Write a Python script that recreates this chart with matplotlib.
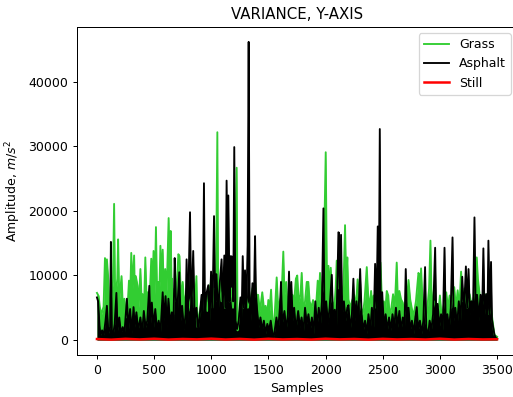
import matplotlib
matplotlib.use("Agg")
import matplotlib.pyplot as plt
import numpy as np

# (sample, variance): peaks and the troughs between them
grass = [
    (0, 7300), (15, 6800), (25, 5100), (40, 4000), (58, 5200), (70, 12700), (80, 9000), (87, 12500),
    (100, 9200), (110, 4500), (125, 6000), (140, 9000), (150, 21100), (158, 8000), (166, 7400),
    (178, 9500), (185, 15600), (195, 6000), (215, 9900), (228, 4500), (240, 6400), (255, 3500),
    (268, 5200), (280, 9200), (290, 6000), (300, 13500), (312, 8000), (325, 13100), (333, 6000),
    (340, 9900), (355, 8400), (365, 5000), (380, 11000), (390, 6500), (400, 7100), (412, 5000),
    (423, 12800), (435, 6000), (446, 7400), (460, 6000), (475, 12600), (485, 8000), (495, 13800),
    (505, 7000), (516, 17500), (525, 8000), (535, 9000), (545, 6500), (555, 14600), (565, 9000),
    (575, 14000), (585, 7000), (597, 11000), (610, 7500), (627, 18900), (636, 10000), (645, 16900),
    (652, 9000), (656, 9500), (668, 4000), (680, 8000), (690, 6000), (700, 9000), (712, 13300),
    (722, 13000), (735, 6000), (750, 9000), (765, 5000), (784, 8000), (800, 4500), (815, 6000),
    (830, 7000), (842, 9000), (855, 5000), (870, 9900), (880, 2000), (895, 4000), (915, 6000),
    (930, 3500), (950, 6500), (965, 4500), (980, 7500), (998, 9000), (1010, 5000), (1024, 8000),
    (1040, 6000), (1053, 32200), (1060, 7000), (1075, 9000), (1090, 6000), (1105, 8000),
    (1120, 5000), (1140, 9000), (1160, 6000), (1175, 8000), (1190, 5000), (1210, 9000),
    (1222, 26700), (1230, 1500), (1245, 4000), (1260, 6000), (1280, 5000), (1300, 7000),
    (1320, 5000), (1340, 6000), (1360, 8000), (1383, 9000), (1397, 6600), (1410, 7000),
    (1425, 4400), (1446, 7400), (1460, 5000), (1475, 5300), (1490, 4000), (1499, 6200),
    (1510, 4500), (1523, 7800), (1535, 3000), (1545, 1500), (1558, 5000), (1572, 9700),
    (1585, 5000), (1600, 6000), (1615, 7000), (1630, 13700), (1640, 7000), (1655, 9000),
    (1668, 4800), (1680, 7000), (1695, 5000), (1710, 7000), (1725, 6000), (1740, 9500),
    (1752, 10000), (1765, 6000), (1780, 7000), (1791, 10400), (1805, 4300), (1820, 6000),
    (1835, 9000), (1849, 9000), (1860, 6000), (1875, 5000), (1890, 6200), (1905, 4000),
    (1918, 5600), (1931, 9200), (1940, 6000), (1951, 10400), (1965, 7000), (1980, 8000),
    (2001, 29100), (2012, 8000), (2025, 11500), (2035, 7000), (2045, 11200), (2060, 6000),
    (2075, 4700), (2088, 8000), (2097, 12300), (2110, 8000), (2125, 10000), (2140, 8000),
    (2155, 7000), (2170, 17800), (2180, 9000), (2190, 12800), (2200, 6300), (2215, 5000),
    (2230, 6000), (2250, 7000), (2265, 5000), (2280, 9400), (2295, 6000), (2310, 5000),
    (2325, 4000), (2340, 6000), (2360, 11300), (2372, 6900), (2385, 5000), (2398, 7600),
    (2410, 5000), (2420, 6900), (2440, 5000), (2460, 8000), (2480, 12000), (2495, 5000),
    (2510, 6000), (2520, 4000), (2535, 7600), (2548, 6900), (2560, 3800), (2575, 5000),
    (2590, 7100), (2605, 5000), (2622, 12000), (2632, 6000), (2645, 7600), (2660, 6300),
    (2675, 5800), (2690, 4000), (2710, 6000), (2725, 9300), (2740, 6300), (2755, 4800),
    (2770, 3800), (2790, 6000), (2812, 10400), (2818, 10200), (2826, 6000), (2835, 11100),
    (2850, 5000), (2865, 6000), (2880, 2500), (2895, 6000), (2905, 8000), (2917, 15400),
    (2925, 7900), (2940, 5000), (2955, 6000), (2970, 5600), (2985, 4000), (3000, 6900),
    (3015, 3500), (3030, 5000), (3055, 7400), (3070, 5000), (3085, 6900), (3100, 5000),
    (3125, 8200), (3140, 5000), (3155, 7700), (3170, 5000), (3185, 10600), (3200, 6000),
    (3215, 8000), (3240, 5000), (3260, 7100), (3280, 5000), (3300, 7000), (3322, 12800),
    (3332, 9500), (3345, 7400), (3360, 5000), (3380, 6000), (3395, 7100), (3410, 5000),
    (3430, 4000), (3447, 5000), (3460, 3000), (3477, 800), (3500, 500),
]

asphalt = [
    (0, 6600), (10, 6000), (22, 2300), (30, 700), (45, 1500), (60, 800), (75, 3000), (87, 5300),
    (100, 1000), (115, 2000), (122, 15200), (130, 1500), (140, 600), (155, 2500), (170, 7300),
    (180, 1500), (195, 3500), (210, 1000), (225, 2000), (240, 1000), (262, 6400), (275, 1500),
    (290, 4800), (305, 1000), (320, 5100), (330, 2000), (345, 4300), (360, 1500), (380, 3500),
    (395, 1000), (410, 4500), (425, 2000), (440, 3000), (458, 8400), (468, 2500), (480, 5800),
    (495, 2000), (510, 4800), (525, 1500), (540, 3000), (555, 1000), (575, 7400), (585, 3000),
    (600, 6800), (612, 2000), (625, 6400), (640, 2500), (655, 4300), (668, 1500), (680, 12700),
    (690, 6800), (700, 2000), (706, 5800), (720, 10500), (732, 3000), (745, 5300), (760, 1500),
    (775, 4000), (784, 12500), (795, 3000), (814, 19800), (825, 4000), (842, 13800), (855, 3000),
    (870, 5000), (886, 1500), (900, 4000), (915, 7000), (925, 3000), (936, 24300), (945, 3000),
    (955, 7000), (974, 8500), (985, 3000), (998, 10600), (1010, 4000), (1024, 19200),
    (1035, 5000), (1045, 10200), (1060, 4000), (1075, 9000), (1090, 12500), (1100, 5000),
    (1114, 13100), (1125, 5000), (1134, 24700), (1142, 6000), (1149, 22400), (1160, 6000),
    (1170, 13000), (1184, 12900), (1192, 6000), (1201, 29900), (1212, 3000), (1225, 1700),
    (1240, 3000), (1255, 6600), (1265, 3000), (1275, 13000), (1285, 5000), (1295, 10800),
    (1305, 4000), (1318, 14600), (1327, 46200), (1335, 7700), (1345, 3000), (1360, 8800),
    (1372, 5000), (1383, 16100), (1390, 7400), (1400, 4800), (1415, 2000), (1430, 3500),
    (1445, 1500), (1460, 3000), (1475, 1000), (1490, 2500), (1505, 1500), (1520, 3000),
    (1535, 1000), (1545, 400), (1555, 1500), (1570, 3500), (1585, 1500), (1600, 5000),
    (1610, 9000), (1620, 2500), (1640, 4500), (1655, 1500), (1670, 4000), (1680, 10600),
    (1690, 3000), (1700, 9000), (1712, 3000), (1725, 5000), (1740, 1500), (1760, 4500),
    (1775, 2000), (1790, 3500), (1805, 1000), (1820, 5000), (1835, 2500), (1850, 4000),
    (1865, 1500), (1880, 3500), (1895, 1000), (1910, 6000), (1925, 2000), (1940, 5000),
    (1955, 2500), (1968, 6000), (1981, 20400), (1990, 4000), (2005, 6000), (2020, 2500),
    (2035, 5000), (2054, 10100), (2065, 3000), (2080, 4700), (2095, 2000), (2112, 16700),
    (2117, 16600), (2125, 5000), (2135, 16300), (2145, 4000), (2160, 6000), (2175, 3000),
    (2190, 5000), (2200, 5400), (2215, 1500), (2230, 4000), (2243, 9500), (2255, 3000),
    (2270, 6000), (2285, 2500), (2302, 11000), (2315, 4000), (2330, 1500), (2345, 3000),
    (2360, 1000), (2375, 4000), (2390, 1500), (2405, 5000), (2420, 2000), (2433, 11800),
    (2445, 4000), (2456, 17600), (2465, 5000), (2474, 32700), (2482, 4000), (2495, 7400),
    (2510, 2000), (2525, 4000), (2540, 1500), (2555, 3500), (2570, 1500), (2585, 4000),
    (2600, 2000), (2615, 5000), (2630, 2000), (2645, 4500), (2660, 1500), (2675, 3500),
    (2690, 2000), (2701, 11000), (2712, 3000), (2725, 5000), (2740, 1500), (2755, 3000),
    (2770, 1000), (2785, 3500), (2797, 5100), (2810, 1500), (2825, 3000), (2840, 1000),
    (2855, 3000), (2870, 11300), (2880, 2000), (2895, 500), (2910, 3000), (2925, 1500),
    (2940, 4000), (2958, 14300), (2968, 3000), (2980, 5600), (2995, 2000), (3010, 4000),
    (3025, 1500), (3040, 14300), (3050, 3000), (3065, 4000), (3080, 1500), (3095, 5000),
    (3110, 15900), (3120, 3000), (3135, 5000), (3150, 2000), (3165, 6000), (3180, 3000),
    (3195, 9800), (3210, 4000), (3227, 11400), (3238, 5000), (3250, 11000), (3262, 4000),
    (3275, 6000), (3288, 3000), (3302, 19000), (3312, 5000), (3325, 7000), (3340, 3000),
    (3355, 7000), (3368, 3000), (3380, 14200), (3390, 4000), (3405, 7100), (3415, 3000),
    (3424, 15400), (3435, 4000), (3447, 12100), (3455, 3200), (3465, 2000), (3477, 800),
    (3490, 300), (3500, 200),
]

still = [
    (0, 150), (125, 60), (250, 180), (375, 90), (500, 200), (625, 70), (750, 160), (875, 100),
    (1000, 210), (1125, 80), (1250, 170), (1375, 60), (1500, 190), (1625, 90), (1750, 150),
    (1875, 70), (2000, 200), (2125, 100), (2250, 160), (2375, 60), (2500, 180), (2625, 90),
    (2750, 150), (2875, 80), (3000, 200), (3125, 70), (3250, 160), (3375, 90), (3500, 120),
]

fig = plt.figure(figsize=(513 / 90, 397 / 90), dpi=90)
ax = fig.add_axes([0.150, 0.106, 0.858, 0.826])

series = [(grass, 'limegreen', 'Grass', 1.5),
          (asphalt, 'black', 'Asphalt', 1.5),
          (still, 'red', 'Still', 2.0)]

for pts, col, name, lw in series:
    x, y = np.array(pts).T
    if name != 'Still':
        ax.fill_between(x, 0, y, color=col, linewidth=0)
    ax.plot(x, y, color=col, linewidth=lw, label=name)

ax.set_title('VARIANCE, Y-AXIS')
ax.set_xlabel('Samples')
ax.set_ylabel('Amplitude, $m/s^2$')
ax.set_xticks([0, 500, 1000, 1500, 2000, 2500, 3000, 3500])
ax.set_yticks([0, 10000, 20000, 30000, 40000])
ax.legend(loc='upper right')

fig.savefig('out.png', dpi=90)
